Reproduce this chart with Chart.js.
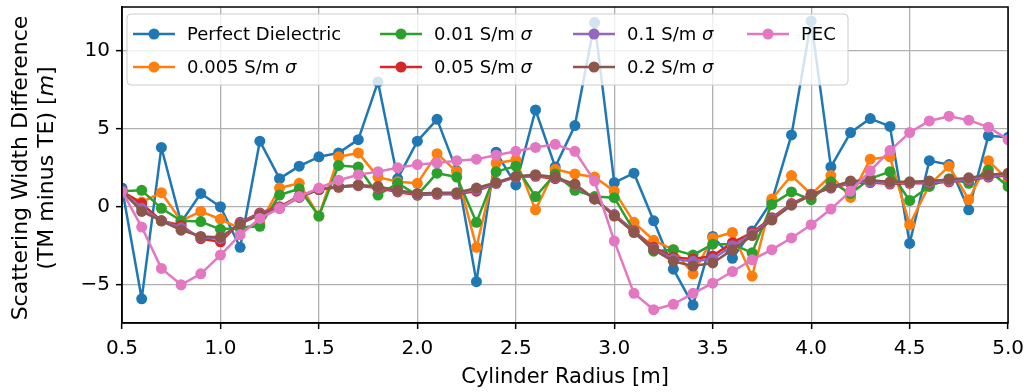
<!DOCTYPE html>
<html>
<head>
<meta charset="utf-8">
<script src="https://cdn.jsdelivr.net/npm/chart.js@4.4.1/dist/chart.umd.min.js"></script>
<style>
  html, body { margin: 0; padding: 0; background: #fff; }
  #wrap { width: 1032px; height: 392px; position: relative; }
</style>
</head>
<body>
<div id="wrap"><canvas id="chart"></canvas></div>
<script>
// --- data ---
const radius = [0.5, 0.6, 0.7, 0.8, 0.9, 1.0, 1.1, 1.2, 1.3, 1.4, 1.5, 1.6, 1.7, 1.8, 1.9, 2.0,
  2.1, 2.2, 2.3, 2.4, 2.5, 2.6, 2.7, 2.8, 2.9, 3.0, 3.1, 3.2, 3.3, 3.4, 3.5, 3.6, 3.7, 3.8, 3.9,
  4.0, 4.1, 4.2, 4.3, 4.4, 4.5, 4.6, 4.7, 4.8, 4.9, 5.0];

const perfectDielectric = [1.2, -5.9, 3.8, -1.0, 0.85, 0.0, -2.6, 4.2, 1.8, 2.6, 3.2, 3.45, 4.3, 8.0, 1.8, 4.2,
  5.6, 2.3, -4.8, 3.5, 1.4, 6.2, 2.55, 5.2, 11.8, 1.55, 2.15, -0.9, -4.0, -6.3, -1.9, -3.3, -1.55, 0.35, 4.6,
  11.9, 2.55, 4.75, 5.65, 5.15, -2.35, 2.95, 2.7, -0.2, 4.55, 4.45];
const sigma0005 = [0.9, 0.3, 0.9, -0.9, -0.3, -0.8, -1.4, -1.1, 1.2, 1.5, -0.6, 3.2, 3.45, 1.9, 1.6, 1.5,
  3.4, 2.25, -2.6, 2.8, 3.0, -0.2, 2.4, 2.1, 1.9, 1.0, -1.0, -2.15, -2.75, -4.3, -2.0, -1.65, -4.45, 0.5, 2.0,
  0.8, 2.0, 0.6, 3.05, 3.2, -1.15, 1.4, 2.6, 0.45, 2.95, 1.7];
const sigma001 = [1.0, 1.05, -0.1, -0.9, -0.95, -1.45, -1.35, -1.25, 0.75, 1.15, -0.6, 2.65, 2.55, 0.75, 1.5, 0.75,
  2.15, 1.9, -1.0, 2.25, 2.6, 0.65, 2.1, 1.05, 0.65, 0.58, -1.55, -2.85, -2.75, -3.1, -2.4, -2.4, -2.95, 0.15, 0.95,
  0.45, 1.6, 0.85, 1.8, 2.25, 0.4, 1.3, 1.8, 1.5, 2.35, 1.3];
const sigma005 = [1.0, 0.2, -0.9, -1.2, -2.05, -2.25, -1.0, -0.4, 0.0, 0.7, 1.1, 1.25, 1.35, 1.2, 0.95, 0.75,
  0.8, 0.8, 1.0, 1.5, 1.9, 1.95, 1.8, 1.4, 0.5, -0.5, -1.55, -2.6, -3.25, -3.35, -3.15, -2.3, -1.65, -0.7, 0.2,
  0.8, 1.2, 1.5, 1.55, 1.45, 1.5, 1.5, 1.6, 1.7, 1.9, 2.0];
const sigma01 = [1.0, -0.1, -0.9, -1.35, -1.95, -2.05, -1.05, -0.45, -0.05, 0.65, 1.1, 1.28, 1.38, 1.25, 1.0, 0.8,
  0.85, 0.85, 1.1, 1.5, 1.9, 2.0, 1.85, 1.4, 0.5, -0.55, -1.6, -2.7, -3.35, -3.5, -3.35, -2.5, -1.75, -0.78, 0.15,
  0.78, 1.22, 1.55, 1.6, 1.5, 1.55, 1.55, 1.65, 1.75, 1.95, 2.05];
const sigma02 = [1.0, -0.3, -0.9, -1.5, -1.9, -1.95, -1.1, -0.5, -0.1, 0.6, 1.1, 1.3, 1.4, 1.3, 1.05, 0.85,
  0.9, 0.9, 1.2, 1.55, 1.95, 2.05, 1.9, 1.45, 0.5, -0.6, -1.65, -2.75, -3.5, -3.8, -3.6, -2.75, -1.85, -0.85, 0.1,
  0.75, 1.25, 1.65, 1.7, 1.6, 1.6, 1.65, 1.75, 1.85, 2.05, 2.15];
const pec = [1.0, -1.3, -3.95, -5.0, -4.3, -3.1, -1.8, -0.75, -0.1, 0.65, 1.2, 1.7, 2.05, 2.25, 2.5, 2.7,
  2.8, 2.95, 3.05, 3.3, 3.55, 3.8, 4.0, 3.55, 1.65, -2.2, -5.55, -6.6, -6.25, -5.55, -4.9, -4.15, -3.4, -2.75, -2.0,
  -1.15, -0.15, 1.0, 2.3, 3.6, 4.75, 5.5, 5.8, 5.55, 5.1, 4.3];

const seriesLabels = ['Perfect Dielectric', '0.005 S/m σ', '0.01 S/m σ', '0.05 S/m σ', '0.1 S/m σ', '0.2 S/m σ', 'PEC'];
const seriesValues = [perfectDielectric, sigma0005, sigma001, sigma005, sigma01, sigma02, pec];
const seriesColors = ['#1f77b4', '#ff7f0e', '#2ca02c', '#d62728', '#9467bd', '#8c564b', '#e377c2'];

const xTicks = [0.5, 1.0, 1.5, 2.0, 2.5, 3.0, 3.5, 4.0, 4.5, 5.0];
const yTicks = [-5, 0, 5, 10];

const FONT = 'DejaVu Sans, sans-serif';
const LEGEND_SIZE = 18;

// frame on all four sides (matplotlib spines)
const frame = {
    id: 'frame',
    afterDatasetsDraw(chart) {
        const { ctx, chartArea: a } = chart;
        ctx.save();
        ctx.strokeStyle = '#000';
        ctx.lineWidth = 1.5;
        ctx.strokeRect(a.left, a.top, a.right - a.left, a.bottom - a.top);
        ctx.restore();
    }
};

// draws text, with a trailing sigma set in italic
function drawLabel(ctx, text, x, y) {
    const f = LEGEND_SIZE + 'px ' + FONT;
    if (text.endsWith('σ')) {
        const head = text.slice(0, -1);
        ctx.font = f;
        ctx.fillText(head, x, y);
        const w = ctx.measureText(head).width;
        ctx.font = 'italic ' + f;
        ctx.fillText('σ', x + w, y);
    } else {
        ctx.font = f;
        ctx.fillText(text, x, y);
    }
}

// legend inside the axes, 4 columns x 2 rows, column-major like matplotlib
const innerLegend = {
    id: 'innerLegend',
    afterDraw(chart) {
        const ctx = chart.ctx;
        const box = { x: 127, y: 14, w: 721, h: 71 };
        const cols = [133, 380, 573, 747];
        const rows = [34, 67];
        ctx.save();
        ctx.beginPath();
        ctx.roundRect(box.x, box.y, box.w, box.h, 4);
        ctx.fillStyle = 'rgba(255,255,255,0.8)';
        ctx.fill();
        ctx.strokeStyle = '#cccccc';
        ctx.lineWidth = 1;
        ctx.stroke();

        chart.data.datasets.forEach((ds, i) => {
            const lx = cols[Math.floor(i / 2)];
            const ly = rows[i % 2];
            ctx.strokeStyle = ds.borderColor;
            ctx.lineWidth = 2.5;
            ctx.beginPath();
            ctx.moveTo(lx, ly);
            ctx.lineTo(lx + 42, ly);
            ctx.stroke();
            ctx.fillStyle = ds.borderColor;
            ctx.beginPath();
            ctx.arc(lx + 21, ly, 5.5, 0, Math.PI * 2);
            ctx.fill();
            ctx.fillStyle = '#000';
            ctx.textBaseline = 'middle';
            ctx.textAlign = 'left';
            drawLabel(ctx, ds.label, lx + 54, ly + 1);
        });
        ctx.restore();
    }
};

// y axis title, two lines, italic m
const yTitle = {
    id: 'yTitle',
    afterDraw(chart) {
        const { ctx, chartArea: a } = chart;
        const cy = (a.top + a.bottom) / 2 + 3;
        const f = '22px ' + FONT;
        ctx.save();
        ctx.fillStyle = '#000';
        ctx.textBaseline = 'middle';
        ctx.textAlign = 'left';
        ctx.font = f;

        ctx.translate(21, cy);
        ctx.rotate(-Math.PI / 2);
        const l1 = 'Scattering Width Difference';
        ctx.fillText(l1, -ctx.measureText(l1).width / 2, 0);

        const p1 = '(TM minus TE) [', p2 = 'm', p3 = ']';
        ctx.font = f;
        const w1 = ctx.measureText(p1).width, w3 = ctx.measureText(p3).width;
        ctx.font = 'italic ' + f;
        const w2 = ctx.measureText(p2).width;
        const x0 = -(w1 + w2 + w3) / 2;
        ctx.font = f;
        ctx.fillText(p1, x0, 26);
        ctx.font = 'italic ' + f;
        ctx.fillText(p2, x0 + w1, 26);
        ctx.font = f;
        ctx.fillText(p3, x0 + w1 + w2, 26);
        ctx.restore();
    }
};

const datasets = seriesLabels.map((label, i) => ({
    label: label,
    data: radius.map((r, k) => ({ x: r, y: seriesValues[i][k] })),
    borderColor: seriesColors[i],
    backgroundColor: seriesColors[i],
    pointBackgroundColor: seriesColors[i],
    pointBorderColor: seriesColors[i],
    borderWidth: 2.5,
    pointRadius: 5.5,
    pointBorderWidth: 0,
    borderJoinStyle: 'round',
    tension: 0,
    fill: false,
    order: seriesLabels.length - 1 - i   // later series drawn on top
}));

new Chart(document.getElementById('chart'), {
    type: 'line',
    data: { datasets },
    options: {
        responsive: true,
        maintainAspectRatio: false,
        devicePixelRatio: 1,
        animation: false,
        layout: { padding: { top: 7, right: 19, left: 0, bottom: 0 } },
        plugins: {
            legend: { display: false },
            tooltip: { enabled: false }
        },
        scales: {
            x: {
                type: 'linear',
                min: 0.5,
                max: 5.0,
                afterBuildTicks: (s) => { s.ticks = xTicks.map(v => ({ value: v })); },
                afterFit: (s) => { s.height = 69; },
                ticks: {
                    color: '#000',
                    font: { family: FONT, size: 20 },
                    padding: 8,
                    maxRotation: 0,
                    callback: (v) => Number(v).toFixed(1)
                },
                grid: { color: '#b0b0b0', lineWidth: 1.3, tickColor: '#000', tickLength: 6, tickWidth: 1.5 },
                border: { display: true, color: '#000', width: 1.5 },
                title: {
                    display: true,
                    text: 'Cylinder Radius [m]',
                    color: '#000',
                    font: { family: FONT, size: 21 },
                    padding: { top: 0, bottom: 2 }
                }
            },
            y: {
                type: 'linear',
                min: -7.45,
                max: 12.8,
                afterBuildTicks: (s) => { s.ticks = yTicks.map(v => ({ value: v })); },
                afterFit: (s) => { s.width = 122; s.paddingTop = 0; s.paddingBottom = 0; },
                ticks: {
                    color: '#000',
                    font: { family: FONT, size: 20 },
                    padding: 6,
                    callback: (v) => v < 0 ? '\u2212' + Math.abs(v) : String(v)
                },
                grid: { color: '#b0b0b0', lineWidth: 1.3, tickColor: '#000', tickLength: 6, tickWidth: 1.5 },
                border: { display: true, color: '#000', width: 1.5 }
            }
        }
    },
    plugins: [frame, innerLegend, yTitle]
});
</script>
</body>
</html>
